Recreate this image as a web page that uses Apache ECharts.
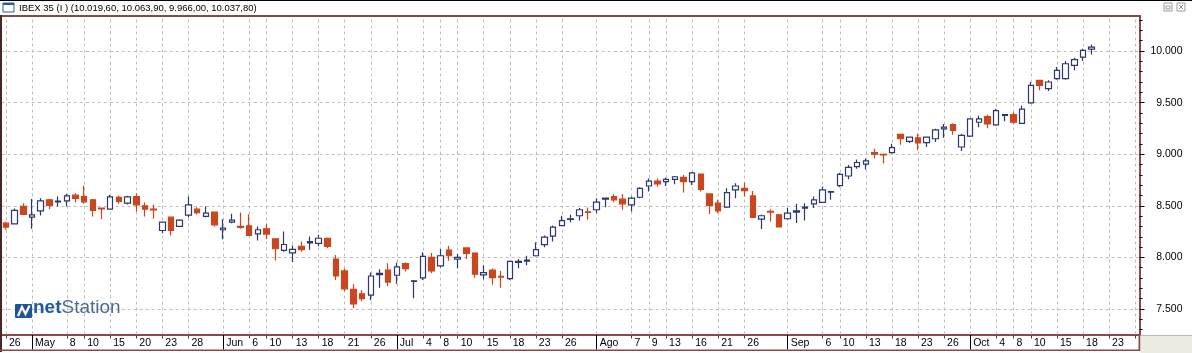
<!DOCTYPE html>
<html>
<head>
<meta charset="utf-8">
<title>IBEX 35</title>
<script src="https://cdn.jsdelivr.net/npm/echarts@6/dist/echarts.min.js"></script>
<style>
  html, body { margin: 0; padding: 0; background: #fff; }
  #chart { width: 1192px; height: 353px; }
</style>
</head>
<body>
<div id="chart"></div>
<script>
// sesiones 26/04/2013 - 28/10/2013 (las ultimas sin datos todavia)
const dates = [
  '26/04', '29/04', '30/04',
  '02/05', '03/05', '06/05', '07/05', '08/05', '09/05', '10/05', '13/05', '14/05', '15/05', '16/05',
  '17/05', '20/05', '21/05', '22/05', '23/05', '24/05', '27/05', '28/05', '29/05', '30/05', '31/05',
  '03/06', '04/06', '05/06', '06/06', '07/06', '10/06', '11/06', '12/06', '13/06', '14/06', '17/06',
  '18/06', '19/06', '20/06', '21/06', '24/06', '25/06', '26/06', '27/06', '28/06',
  '01/07', '02/07', '03/07', '04/07', '05/07', '08/07', '09/07', '10/07', '11/07', '12/07', '15/07',
  '16/07', '17/07', '18/07', '19/07', '22/07', '23/07', '24/07', '25/07', '26/07', '29/07', '30/07', '31/07',
  '01/08', '02/08', '05/08', '06/08', '07/08', '08/08', '09/08', '12/08', '13/08', '14/08', '15/08',
  '16/08', '19/08', '20/08', '21/08', '22/08', '23/08', '26/08', '27/08', '28/08', '29/08', '30/08',
  '02/09', '03/09', '04/09', '05/09', '06/09', '09/09', '10/09', '11/09', '12/09', '13/09', '16/09',
  '17/09', '18/09', '19/09', '20/09', '23/09', '24/09', '25/09', '26/09', '27/09', '30/09',
  '01/10', '02/10', '03/10', '04/10', '07/10', '08/10', '09/10', '10/10', '11/10', '14/10', '15/10',
  '16/10', '17/10', '18/10', '21/10', '22/10', '23/10', '24/10', '25/10', '28/10'
];

const opens = [
  8332, 8326, 8494, 8390, 8452, 8558, 8539, 8548, 8603, 8590, 8558, 8477, 8468, 8581, 8526, 8590,
  8500, 8468, 8261, 8390, 8300, 8410, 8468, 8397, 8439, 8268, 8342, 8300, 8306, 8229, 8277, 8181,
  8068, 8045, 8108, 8141, 8137, 8186, 7984, 7869, 7690, 7647, 7634, 7833, 7876, 7827, 7941, 7768,
  7801, 8000, 7918, 8072, 7984, 8092, 8042, 7830, 7876, 7817, 7794, 7951, 7964, 8016, 8124, 8206,
  8308, 8369, 8404, 8442, 8462, 8564, 8590, 8564, 8510, 8583, 8692, 8740, 8734, 8756, 8776, 8734,
  8808, 8615, 8526, 8487, 8654, 8670, 8596, 8372, 8446, 8413, 8375, 8439, 8478, 8519, 8534, 8633,
  8696, 8789, 8879, 8904, 9016, 9000, 9016, 9192, 9125, 9160, 9112, 9150, 9246, 9288, 9070, 9176,
  9310, 9364, 9284, 9377, 9383, 9300, 9497, 9716, 9635, 9732, 9732, 9861, 9942, 10019.6
];
const highs = [
  8345, 8474, 8526, 8565, 8574, 8565, 8590, 8616, 8623, 8694, 8565, 8484, 8606, 8597, 8597, 8623,
  8532, 8510, 8348, 8397, 8371, 8590, 8487, 8494, 8445, 8371, 8423, 8435, 8419, 8300, 8326, 8187,
  8250, 8115, 8154, 8203, 8219, 8193, 8023, 7892, 7739, 7683, 7853, 7886, 7944, 7951, 7951, 7781,
  8049, 8042, 8082, 8114, 8033, 8098, 8049, 7925, 7892, 7869, 7967, 7984, 8016, 8147, 8212, 8310,
  8404, 8413, 8478, 8484, 8574, 8580, 8612, 8615, 8590, 8679, 8766, 8766, 8772, 8788, 8798, 8827,
  8814, 8622, 8558, 8670, 8718, 8724, 8644, 8413, 8468, 8420, 8478, 8519, 8526, 8590, 8687, 8645,
  8821, 8895, 8949, 8958, 9054, 9006, 9102, 9198, 9173, 9198, 9173, 9246, 9294, 9300, 9198, 9348,
  9374, 9383, 9438, 9390, 9406, 9470, 9700, 9723, 9716, 9845, 9903, 9935, 10023, 10063.9
];
const lows = [
  8268, 8319, 8410, 8277, 8406, 8468, 8494, 8494, 8532, 8519, 8397, 8371, 8461, 8519, 8513, 8445,
  8397, 8374, 8235, 8213, 8294, 8390, 8416, 8390, 8300, 8177, 8332, 8277, 8210, 8164, 8177, 7971,
  8055, 7955, 8056, 8075, 8108, 8088, 7781, 7673, 7510, 7575, 7585, 7706, 7722, 7745, 7863, 7605,
  7781, 7846, 7902, 7967, 7895, 7984, 7804, 7788, 7735, 7706, 7781, 7895, 7925, 8010, 8098, 8154,
  8301, 8340, 8359, 8365, 8429, 8487, 8535, 8462, 8446, 8574, 8638, 8686, 8692, 8708, 8628, 8702,
  8638, 8420, 8429, 8478, 8574, 8590, 8381, 8276, 8349, 8292, 8365, 8333, 8359, 8478, 8527, 8559,
  8680, 8757, 8859, 8853, 8958, 8910, 9006, 9093, 9109, 9038, 9070, 9118, 9160, 9188, 9032, 9166,
  9262, 9252, 9275, 9320, 9294, 9294, 9490, 9619, 9613, 9723, 9723, 9813, 9903, 9966
];
const closes = [
  8294, 8455, 8416, 8413, 8548, 8503, 8545, 8597, 8571, 8539, 8455, 8471, 8587, 8542, 8587, 8510,
  8468, 8461, 8342, 8261, 8361, 8510, 8435, 8429, 8316, 8284, 8361, 8290, 8213, 8268, 8226, 8084,
  8125, 8078, 8075, 8154, 8186, 8108, 7820, 7696, 7549, 7601, 7820, 7846, 7761, 7908, 7892, 7774,
  8010, 7869, 8016, 8016, 8000, 8039, 7837, 7853, 7804, 7810, 7961, 7961, 7974, 8075, 8196, 8294,
  8356, 8375, 8462, 8436, 8535, 8574, 8558, 8519, 8574, 8670, 8740, 8712, 8756, 8782, 8734, 8820,
  8660, 8503, 8452, 8628, 8692, 8647, 8388, 8404, 8439, 8295, 8430, 8452, 8487, 8558, 8655, 8639,
  8805, 8872, 8920, 8936, 9000, 8994, 9064, 9150, 9166, 9109, 9166, 9236, 9262, 9230, 9182, 9342,
  9342, 9294, 9422, 9383, 9310, 9438, 9668, 9668, 9700, 9813, 9877, 9916, 10006, 10037.8
];

// etiquetas del eje de fechas
const tickDates = [
  '26/04', '02/05', '08/05', '10/05', '15/05', '20/05', '23/05', '28/05',
  '03/06', '06/06', '10/06', '13/06', '18/06', '21/06', '26/06',
  '01/07', '04/07', '08/07', '10/07', '15/07', '18/07', '23/07', '26/07',
  '01/08', '07/08', '09/08', '13/08', '16/08', '21/08', '26/08',
  '02/09', '06/09', '10/09', '13/09', '18/09', '23/09', '26/09',
  '01/10', '04/10', '08/10', '10/10', '15/10', '18/10', '23/10', '28/10'
];
const tickLabels = [
  '26', 'May', '8', '10', '15', '20', '23', '28',
  'Jun', '6', '10', '13', '18', '21', '26',
  'Jul', '4', '8', '10', '15', '18', '23', '26',
  'Ago', '7', '9', '13', '16', '21', '26',
  'Sep', '6', '10', '13', '18', '23', '26',
  'Oct', '4', '8', '10', '15', '18', '23', ''
];
const monthStarts = ['02/05', '03/06', '01/07', '01/08', '02/09', '01/10'];

const yTicks = [7500, 8000, 8500, 9000, 9500, 10000];
const yMinorTicks = [
  7300, 7400, 7600, 7700, 7800, 7900, 8100, 8200, 8300, 8400, 8600, 8700, 8800, 8900,
  9100, 9200, 9300, 9400, 9600, 9700, 9800, 9900, 10100, 10200, 10300
];

const BROWN = '#8c4848';
const GRID = '#bdbdbd';
const BULL = '#2e3870';
const BEAR = '#c9471f';
const FONT = '"Liberation Sans", Arial, sans-serif';

const fmtNum = v => String(v).replace(/\B(?=(\d{3})+(?!\d))/g, '.');
const fmtPrice = v => {
  const parts = v.toFixed(2).split('.');
  return fmtNum(parts[0]) + ',' + parts[1];
};

const candles = opens.map((o, i) => [o, closes[i], lows[i], highs[i]]);
const last = opens.length - 1;
const titleText = 'IBEX 35 (I ) (' + [opens[last], highs[last], lows[last], closes[last]].map(fmtPrice).join(', ') + ')';

const tickMap = {};
tickDates.forEach((d, i) => { tickMap[d] = tickLabels[i]; });
const isTick = (idx, value) => value in tickMap;
const isMonth = (idx, value) => monthStarts.includes(value);

const chart = echarts.init(document.getElementById('chart'));

chart.setOption({
  animation: false,
  backgroundColor: '#fff',
  textStyle: { fontFamily: FONT },
  grid: { left: 1.66, right: 52.5, top: 17, bottom: 18.5 },
  xAxis: [
    {
      type: 'category',
      data: dates,
      position: 'bottom',
      axisLine: { lineStyle: { color: BROWN, width: 2 } },
      axisTick: { show: true, interval: isTick, alignWithLabel: true, length: 4, lineStyle: { color: '#444' } },
      axisLabel: {
        interval: isTick,
        formatter: v => tickMap[v],
        align: 'left',
        padding: [0, 0, 0, 3],
        margin: 3,
        color: '#000',
        fontSize: 10.5
      },
      splitLine: { show: false }
    },
    {
      // separadores de mes
      type: 'category',
      data: dates,
      position: 'bottom',
      axisLine: { show: false },
      axisTick: { show: true, interval: isMonth, alignWithLabel: true, length: 15, lineStyle: { color: '#000' } },
      axisLabel: { show: false },
      splitLine: { show: false }
    },
    {
      // rejilla vertical
      type: 'category',
      data: dates,
      position: 'bottom',
      axisLine: { show: false },
      axisTick: {
        show: true, interval: isTick, alignWithLabel: true, inside: true, length: 318,
        lineStyle: { color: GRID, type: [3, 3] }
      },
      axisLabel: { show: false },
      splitLine: { show: false }
    }
  ],
  yAxis: [
    {
      type: 'value',
      position: 'right',
      min: 7253,
      max: 10330,
      axisLine: { show: true, lineStyle: { color: BROWN, width: 2 } },
      axisTick: { show: true, customValues: yTicks, length: 5, lineStyle: { color: '#000' } },
      axisLabel: {
        customValues: yTicks,
        formatter: v => fmtNum(v),
        align: 'right',
        margin: 43,
        color: '#000',
        fontSize: 10.5
      },
      splitLine: { show: true, lineStyle: { color: GRID, type: [3, 3] } }
    },
    {
      type: 'value',
      position: 'right',
      min: 7253,
      max: 10330,
      axisLine: { show: false },
      axisTick: { show: true, customValues: yMinorTicks, length: 3, lineStyle: { color: '#000' } },
      axisLabel: { show: false },
      splitLine: { show: false }
    }
  ],
  series: [
    {
      type: 'candlestick',
      name: 'IBEX 35',
      data: candles,
      barWidth: 6,
      itemStyle: {
        color: '#fff',
        color0: BEAR,
        borderColor: BULL,
        borderColor0: BEAR,
        borderWidth: 1.2
      },
      markLine: {
        silent: true,
        symbol: 'none',
        data: [{ yAxis: closes[last] }],
        lineStyle: { opacity: 0 },
        label: {
          position: 'end',
          distance: 2,
          formatter: fmtPrice(closes[last]),
          color: '#fff',
          backgroundColor: '#2f3b7a',
          padding: [1, 2, 0, 1],
          fontSize: 12
        }
      }
    }
  ],
  graphic: [
    // barra de titulo
    { type: 'rect', shape: { x: 0, y: 0, width: 1192, height: 1 }, style: { fill: '#000' }, z: 100 },
    { type: 'rect', shape: { x: 3, y: 3, width: 11, height: 9 }, style: { fill: '#fff', stroke: '#2c5a9a', lineWidth: 1 }, z: 100 },
    { type: 'rect', shape: { x: 3, y: 3, width: 11, height: 2 }, style: { fill: '#2c5a9a' }, z: 100 },
    {
      type: 'text', x: 19, y: 8, z: 100,
      style: { text: titleText, fill: '#000', font: '9.5px ' + FONT, verticalAlign: 'middle' }
    },
    { type: 'rect', shape: { x: 1164, y: 3, width: 8, height: 8 }, style: { fill: 'none', stroke: '#9a9a9a', lineWidth: 1 }, z: 100 },
    { type: 'rect', shape: { x: 1166, y: 6, width: 4, height: 3 }, style: { fill: 'none', stroke: '#9a9a9a', lineWidth: 1 }, z: 100 },
    { type: 'rect', shape: { x: 1177, y: 3, width: 8, height: 8 }, style: { fill: 'none', stroke: '#9a9a9a', lineWidth: 1 }, z: 100 },
    { type: 'line', shape: { x1: 1179, y1: 5, x2: 1183, y2: 9 }, style: { stroke: '#888', lineWidth: 1 }, z: 100 },
    { type: 'line', shape: { x1: 1183, y1: 5, x2: 1179, y2: 9 }, style: { stroke: '#888', lineWidth: 1 }, z: 100 },
    // marco
    { type: 'rect', shape: { x: 0, y: 15, width: 1141, height: 2 }, style: { fill: BROWN }, z: 100 },
    { type: 'rect', shape: { x: 0, y: 15, width: 2, height: 337 }, style: { fill: '#4a2626' }, z: 100 },
    { type: 'rect', shape: { x: 0, y: 349.5, width: 1140, height: 1.5 }, style: { fill: BROWN }, z: 100 },
    { type: 'rect', shape: { x: 1138.5, y: 334, width: 2, height: 17 }, style: { fill: BROWN }, z: 100 },
    { type: 'rect', shape: { x: 1140.5, y: 336, width: 52, height: 17 }, style: { fill: '#ecebe2' }, z: 100 },
    { type: 'rect', shape: { x: 1140.5, y: 335, width: 52, height: 1 }, style: { fill: '#b9b9b9' }, z: 100 },
    // logo
    { type: 'rect', shape: { x: 15, y: 304, width: 17, height: 14, r: 1 }, style: { fill: '#1f5597' }, z: 10 },
    {
      type: 'polyline', z: 11,
      shape: { points: [[18, 316], [22, 307], [25.5, 314], [29.5, 305.5]] },
      style: { stroke: '#fff', lineWidth: 2.2, fill: 'none' }
    },
    {
      type: 'text', x: 33, y: 317, z: 10,
      style: {
        text: '{a|net}{b|Station}',
        textVerticalAlign: 'bottom',
        rich: {
          a: { fontFamily: FONT, fontSize: 19, fontWeight: 'bold', fill: '#1f5aa3', color: '#1f5aa3' },
          b: { fontFamily: FONT, fontSize: 19, fill: '#4c6c8e', color: '#4c6c8e' }
        }
      }
    }
  ]
});
</script>
</body>
</html>
